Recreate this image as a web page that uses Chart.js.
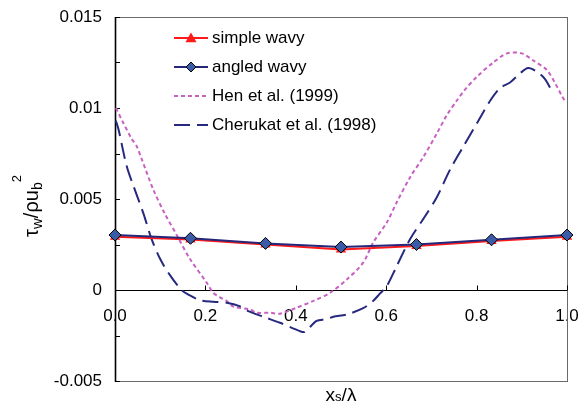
<!DOCTYPE html>
<html>
<head>
<meta charset="utf-8">
<script src="https://cdn.jsdelivr.net/npm/chart.js@4"></script>
<style>
  html, body { margin: 0; padding: 0; background: #fff; }
  #wrap { width: 581px; height: 403px; position: relative; }
</style>
</head>
<body>
<div id="wrap"><canvas id="c" width="581" height="403"></canvas></div>
<script>
// ---- data ----
const markerX = [0, 0.167, 0.333, 0.5, 0.667, 0.833, 1.0];
const simpleWavy = [0.00293, 0.00278, 0.00250, 0.00223, 0.00242, 0.00269, 0.00293];
const angledWavy = [0.00302, 0.00284, 0.00256, 0.00236, 0.00250, 0.00276, 0.00302];

const henX = [0.002, 0.018, 0.037, 0.048, 0.059, 0.085, 0.110, 0.137, 0.166, 0.203, 0.217, 0.232, 0.247, 0.261, 0.299, 0.313, 0.343, 0.365, 0.401, 0.439, 0.476, 0.513, 0.549, 0.571, 0.601, 0.623, 0.653, 0.682, 0.712, 0.734, 0.756, 0.774, 0.800, 0.837, 0.867, 0.900, 0.926, 0.955, 0.973, 0.990, 0.995];
const henY = [0.0100, 0.0092, 0.0083, 0.0079, 0.0072, 0.0055, 0.0042, 0.0030, 0.0017, 0.0004, -0.00015, -0.0004, -0.0006, -0.0009, -0.00107, -0.00125, -0.00125, -0.0013, -0.00098, -0.0006, -0.00015, 0.00058, 0.0015, 0.0026, 0.0037, 0.0048, 0.0062, 0.0073, 0.0086, 0.0096, 0.0104, 0.0110, 0.0117, 0.0125, 0.0130, 0.0130, 0.0126, 0.0121, 0.0114, 0.0106, 0.0104];

const cherX = [0.002, 0.008, 0.026, 0.044, 0.063, 0.081, 0.100, 0.122, 0.147, 0.162, 0.188, 0.218, 0.247, 0.277, 0.295, 0.328, 0.365, 0.409, 0.420, 0.446, 0.468, 0.483, 0.513, 0.549, 0.571, 0.586, 0.601, 0.623, 0.653, 0.682, 0.712, 0.741, 0.771, 0.804, 0.830, 0.852, 0.874, 0.896, 0.914, 0.933, 0.951, 0.965];
const cherY = [0.0093, 0.0088, 0.0068, 0.0055, 0.0042, 0.0028, 0.0017, 0.0008, 0.0000, -0.00025, -0.00056, -0.00065, -0.0007, -0.0009, -0.00116, -0.00147, -0.0018, -0.00226, -0.0023, -0.0017, -0.0016, -0.00147, -0.00134, -0.0010, -0.0006, -0.0002, 0.0002, 0.0013, 0.0028, 0.0039, 0.0051, 0.0066, 0.0079, 0.0093, 0.0104, 0.0111, 0.0114, 0.0119, 0.0122, 0.0120, 0.0116, 0.0110];

const seriesNames = ['simple wavy', 'angled wavy', 'Hen et al. (1999)', 'Cherukat et al. (1998)'];
const xTickValues = [0, 0.2, 0.4, 0.6, 0.8, 1.0];
const xTickLabels = ['0.0', '0.2', '0.4', '0.6', '0.8', '1.0'];
const yTickValues = [-0.005, 0, 0.005, 0.01, 0.015];
const yTickLabels = ['-0.005', '0', '0.005', '0.01', '0.015'];

const FONT = "Arial, 'Liberation Sans', sans-serif";

function pts(xs, ys) { return xs.map((x, i) => ({ x: x, y: ys[i] })); }
function labelFor(v, vals, labs) {
  const i = vals.findIndex(t => Math.abs(t - v) < 1e-9);
  return i >= 0 ? labs[i] : '';
}

const framePlugin = {
  id: 'frame',
  beforeDatasetsDraw(chart) {
    const { ctx, chartArea: a } = chart;
    ctx.save();
    ctx.strokeStyle = '#6a6a6a';
    ctx.lineWidth = 1;
    ctx.strokeRect(a.left + 0.5, a.top + 0.5, a.right - a.left, a.bottom - a.top);
    // zero line
    const y0 = Math.round(chart.scales.y.getPixelForValue(0)) + 0.5;
    ctx.strokeStyle = '#000';
    ctx.beginPath(); ctx.moveTo(a.left, y0); ctx.lineTo(a.right, y0); ctx.stroke();
    // left axis
    ctx.lineWidth = 1.6;
    ctx.beginPath(); ctx.moveTo(a.left + 0.5, a.top); ctx.lineTo(a.left + 0.5, a.bottom + 1); ctx.stroke();
    // y ticks inward
    ctx.lineWidth = 1;
    chart.scales.y.ticks.forEach(t => {
      const py = Math.round(chart.scales.y.getPixelForValue(t.value)) + 0.5;
      ctx.beginPath(); ctx.moveTo(a.left, py); ctx.lineTo(a.left + 5, py); ctx.stroke();
    });
    // x ticks upward from zero line
    chart.scales.x.ticks.forEach(t => {
      const px = Math.round(chart.scales.x.getPixelForValue(t.value)) + 0.5;
      ctx.beginPath(); ctx.moveTo(px, y0); ctx.lineTo(px, y0 - 5); ctx.stroke();
    });
    ctx.restore();
  },
  afterDraw(chart) {
    const { ctx, chartArea: a } = chart;
    ctx.save();
    ctx.fillStyle = '#000';
    ctx.textBaseline = 'alphabetic';
    // ---- y title: τw/ρub² ----
    const parts = [
      { t: 'τ', f: 20, dy: 0 },
      { t: 'w', f: 15, dy: 4 },
      { t: '/ρu', f: 20, dy: 0 },
      { t: 'b', f: 14, dy: 4 },
      { t: '2', f: 13, dy: -17 }
    ];
    let total = 0;
    parts.forEach(p => { ctx.font = p.f + 'px ' + FONT; p.w = ctx.measureText(p.t).width; total += p.w; });
    ctx.translate(38, 206);
    ctx.rotate(-Math.PI / 2);
    let x = -total / 2;
    parts.forEach(p => { ctx.font = p.f + 'px ' + FONT; ctx.fillText(p.t, x, p.dy); x += p.w; });
    ctx.setTransform(1, 0, 0, 1, 0, 0);
    // ---- x title: xs/λ ----
    const xp = [
      { t: 'x', f: 19, dy: 0 },
      { t: 's', f: 13, dy: 0 },
      { t: '/λ', f: 19, dy: 0 }
    ];
    total = 0;
    xp.forEach(p => { ctx.font = p.f + 'px ' + FONT; p.w = ctx.measureText(p.t).width; total += p.w; });
    x = (a.left + a.right) / 2 - total / 2;
    xp.forEach(p => { ctx.font = p.f + 'px ' + FONT; ctx.fillText(p.t, x, 401 + p.dy); x += p.w; });

    // ---- legend ----
    const rows = [38, 67, 96, 125];
    const ds = chart.data.datasets;
    ds.forEach((d, i) => {
      const cy = rows[i];
      ctx.save();
      ctx.strokeStyle = d.borderColor;
      ctx.lineWidth = d.borderWidth;
      ctx.setLineDash(d.borderDash || []);
      ctx.beginPath(); ctx.moveTo(174, cy); ctx.lineTo(208, cy); ctx.stroke();
      ctx.setLineDash([]);
      if (d.pointRadius > 0) {
        ctx.fillStyle = d.pointBackgroundColor;
        ctx.strokeStyle = d.pointBorderColor;
        ctx.lineWidth = d.pointBorderWidth;
        ctx.beginPath();
        if (d.pointStyle === 'triangle') {
          const r = 5.5;
          ctx.moveTo(191, cy - r); ctx.lineTo(191 + r, cy + r * 0.75); ctx.lineTo(191 - r, cy + r * 0.75); ctx.closePath();
        } else {
          const r = 5;
          ctx.moveTo(191, cy - r); ctx.lineTo(191 + r, cy); ctx.lineTo(191, cy + r); ctx.lineTo(191 - r, cy); ctx.closePath();
        }
        ctx.fill();
        if (d.pointBorderWidth > 0) ctx.stroke();
      }
      ctx.restore();
      ctx.font = '17px ' + FONT;
      ctx.fillStyle = '#000';
      ctx.textBaseline = 'middle';
      ctx.fillText(d.label, 212, cy);
    });
    ctx.restore();
  }
};

new Chart(document.getElementById('c'), {
  type: 'scatter',
  data: {
    datasets: [
      {
        label: seriesNames[0], data: pts(markerX, simpleWavy), showLine: true,
        borderColor: '#ff1a1a', borderWidth: 2, pointStyle: 'triangle', pointRadius: 6,
        pointBackgroundColor: '#ff1a1a', pointBorderColor: '#ff1a1a', pointBorderWidth: 0,
        order: 1, clip: false
      },
      {
        label: seriesNames[1], data: pts(markerX, angledWavy), showLine: true,
        borderColor: '#25287a', borderWidth: 2, pointStyle: 'rectRot', pointRadius: 6,
        pointBackgroundColor: '#3a5ca8', pointBorderColor: '#000', pointBorderWidth: 1,
        order: 0, clip: false
      },
      {
        label: seriesNames[2], data: pts(henX, henY), showLine: true,
        borderColor: '#c862c0', borderWidth: 2, borderDash: [4, 3], pointRadius: 0,
        order: 3, tension: 0.3
      },
      {
        label: seriesNames[3], data: pts(cherX, cherY), showLine: true,
        borderColor: '#26297e', borderWidth: 2, borderDash: [16, 7], pointRadius: 0,
        order: 2, tension: 0.3
      }
    ]
  },
  options: {
    responsive: false,
    animation: false,
    events: [],
    layout: { padding: { left: 0, right: 14, top: 17, bottom: 22 } },
    plugins: { legend: { display: false }, tooltip: { enabled: false } },
    scales: {
      x: {
        type: 'linear', min: 0, max: 1, position: { y: 0 },
        grid: { display: false, drawTicks: false },
        border: { display: false },
        afterFit: s => { s.paddingLeft = 0; s.paddingRight = 0; },
        ticks: {
          stepSize: 0.2, autoSkip: false, maxRotation: 0, padding: 16,
          color: '#000', font: { family: FONT, size: 17 },
          callback: v => labelFor(v, xTickValues, xTickLabels)
        }
      },
      y: {
        type: 'linear', min: -0.005, max: 0.015,
        grid: { display: false, drawTicks: false },
        border: { display: false },
        afterFit: s => { s.width = 115; s.paddingTop = 0; s.paddingBottom = 0; },
        ticks: {
          stepSize: 0.0025, autoSkip: false, padding: 13,
          color: '#000', font: { family: FONT, size: 17 },
          callback: v => labelFor(v, yTickValues, yTickLabels)
        }
      }
    }
  },
  plugins: [framePlugin]
});
</script>
</body>
</html>
